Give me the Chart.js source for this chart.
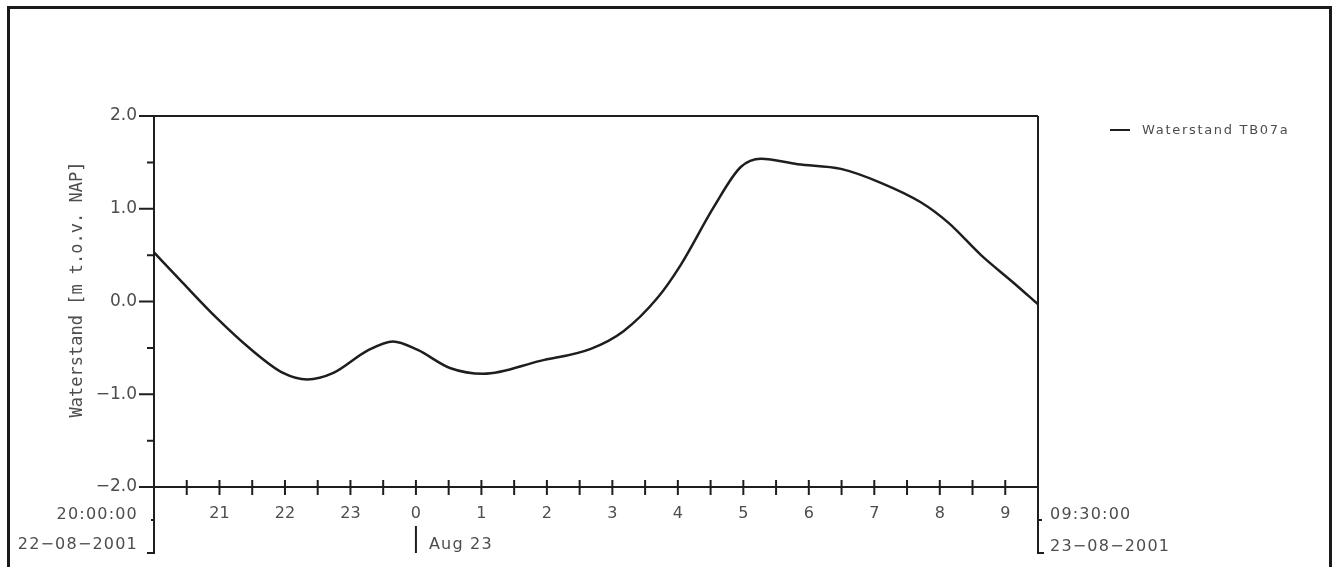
<!DOCTYPE html>
<html>
<head>
<meta charset="utf-8">
<script src="https://cdn.jsdelivr.net/npm/chart.js@4.4.0/dist/chart.umd.min.js"></script>
<style>
  html, body { margin: 0; padding: 0; background: #fff; }
  #wrap { position: relative; width: 1335px; height: 567px; overflow: hidden; }
  #frame { position: absolute; left: 7px; top: 6px; width: 1319px; height: 600px; border: 3px solid #1a1a1a; pointer-events: none; }
</style>
</head>
<body>
<div id="wrap">
  <canvas id="chart" width="1335" height="567"></canvas>
  <div id="frame"></div>
</div>
<script>
// hours since 20:00 on 22-08-2001
const hourOffsets = [0, 0.44, 0.96, 1.47, 1.97, 2.34, 2.74, 3.26, 3.65, 4.02, 4.53, 5.03, 5.9, 6.67,
  7.17, 7.69, 8.04, 8.55, 8.96, 9.27, 9.83, 10.49, 11.1, 11.71, 12.13, 12.63, 13.13, 13.5];
const waterLevel = [0.53, 0.2, -0.18, -0.51, -0.77, -0.84, -0.77, -0.53, -0.43, -0.52, -0.72, -0.78, -0.64, -0.51,
  -0.32, 0.04, 0.39, 1.02, 1.45, 1.54, 1.48, 1.43, 1.28, 1.07, 0.85, 0.5, 0.2, -0.03];

const hourTickValues = [1, 2, 3, 4, 5, 6, 7, 8, 9, 10, 11, 12, 13];
const hourTickLabels = ['21', '22', '23', '0', '1', '2', '3', '4', '5', '6', '7', '8', '9'];
const levelTickValues = [-2, -1, 0, 1, 2];
const levelTickLabels = ['\u22122.0', '\u22121.0', '0.0', '1.0', '2.0'];

const startLabels = ['20:00:00', '22\u221208\u22122001'];
const endLabels = ['09:30:00', '23\u221208\u22122001'];
const dayMarkerOffset = 4;
const dayMarkerLabel = 'Aug 23';
const seriesName = 'Waterstand TB07a';
const yTitle = 'Waterstand [m t.o.v. NAP]';

const ink = '#1e1e1e';
const textGray = '#4d4d4d';

const framePlugin = {
  id: 'frame',
  afterDraw(chart) {
    const ctx = chart.ctx;
    const xs = chart.scales.x, ys = chart.scales.y;
    const { left, right, top, bottom } = chart.chartArea;
    ctx.save();
    ctx.strokeStyle = ink;
    ctx.lineWidth = 2;
    ctx.lineCap = 'butt';

    // box top, bottom axis, side axes running down to the corner labels
    ctx.beginPath();
    ctx.moveTo(left, top); ctx.lineTo(right, top);
    ctx.moveTo(left, bottom); ctx.lineTo(right, bottom);
    ctx.moveTo(left, top); ctx.lineTo(left, bottom + 67);
    ctx.moveTo(right, top); ctx.lineTo(right, bottom + 67);
    // little brackets
    ctx.moveTo(left - 3, bottom + 33); ctx.lineTo(left, bottom + 33);
    ctx.moveTo(left - 7, bottom + 66); ctx.lineTo(left, bottom + 66);
    ctx.moveTo(right, bottom + 33); ctx.lineTo(right + 4, bottom + 33);
    ctx.moveTo(right, bottom + 66); ctx.lineTo(right + 6, bottom + 66);
    ctx.stroke();

    // y ticks
    ctx.beginPath();
    ys.ticks.forEach(t => {
      const py = ys.getPixelForValue(t.value);
      const len = Number.isInteger(t.value) ? 15 : 7;
      ctx.moveTo(left - len, py); ctx.lineTo(left, py);
    });
    // x half-hour ticks crossing the axis
    xs.ticks.forEach(t => {
      if (t.value <= xs.min || t.value >= xs.max) return;
      const px = xs.getPixelForValue(t.value);
      ctx.moveTo(px, bottom - 7); ctx.lineTo(px, bottom + 8);
    });
    // day marker
    const dx = xs.getPixelForValue(dayMarkerOffset);
    ctx.moveTo(dx, bottom + 39); ctx.lineTo(dx, bottom + 66);
    ctx.stroke();

    // corner labels
    ctx.fillStyle = textGray;
    ctx.font = '16px "DejaVu Sans"';
    ctx.letterSpacing = '1.2px';
    ctx.textBaseline = 'middle';
    ctx.textAlign = 'right';
    ctx.fillText(startLabels[0], left - 16, bottom + 28);
    ctx.fillText(startLabels[1], left - 16, bottom + 58);
    ctx.textAlign = 'left';
    ctx.fillText(endLabels[0], right + 12, bottom + 28);
    ctx.fillText(endLabels[1], right + 12, bottom + 60);
    ctx.fillText(dayMarkerLabel, dx + 13, bottom + 58);

    // legend
    ctx.beginPath();
    ctx.moveTo(right + 72, top + 14); ctx.lineTo(right + 92, top + 14);
    ctx.stroke();
    ctx.font = '13px "DejaVu Sans"';
    ctx.letterSpacing = '1.7px';
    ctx.fillText(seriesName, right + 104, top + 15);

    // y title
    ctx.font = '17px "DejaVu Sans Mono"';
    ctx.letterSpacing = '0px';
    ctx.textAlign = 'center';
    ctx.translate(78, (top + bottom) / 2 - 12);
    ctx.rotate(-Math.PI / 2);
    ctx.fillText(yTitle, 0, 0);
    ctx.restore();
  }
};

new Chart(document.getElementById('chart'), {
  type: 'line',
  data: {
    datasets: [{
      label: seriesName,
      data: hourOffsets.map((h, i) => ({ x: h, y: waterLevel[i] })),
      borderColor: ink,
      borderWidth: 2.5,
      pointRadius: 0,
      fill: false,
      cubicInterpolationMode: 'monotone'
    }]
  },
  options: {
    responsive: false,
    animation: false,
    layout: { padding: { top: 116, right: 297, left: 0, bottom: 0 } },
    plugins: { legend: { display: false }, tooltip: { enabled: false } },
    scales: {
      x: {
        type: 'linear',
        min: 0,
        max: 13.5,
        grid: { display: false, drawTicks: false },
        border: { display: false },
        ticks: {
          stepSize: 0.5,
          autoSkip: false,
          maxRotation: 0,
          padding: 17,
          color: textGray,
          font: { family: 'DejaVu Sans', size: 16 },
          callback: v => {
            const i = hourTickValues.indexOf(v);
            return i >= 0 ? hourTickLabels[i] : '';
          }
        },
        afterFit: s => { s.height = 80; }
      },
      y: {
        min: -2,
        max: 2,
        grid: { display: false, drawTicks: false },
        border: { display: false },
        ticks: {
          stepSize: 0.5,
          padding: 17,
          color: textGray,
          font: { family: 'DejaVu Sans', size: 17 },
          callback: v => {
            const i = levelTickValues.indexOf(v);
            return i >= 0 ? levelTickLabels[i] : '';
          }
        },
        afterFit: s => { s.width = 154; }
      }
    }
  },
  plugins: [framePlugin]
});
</script>
</body>
</html>
